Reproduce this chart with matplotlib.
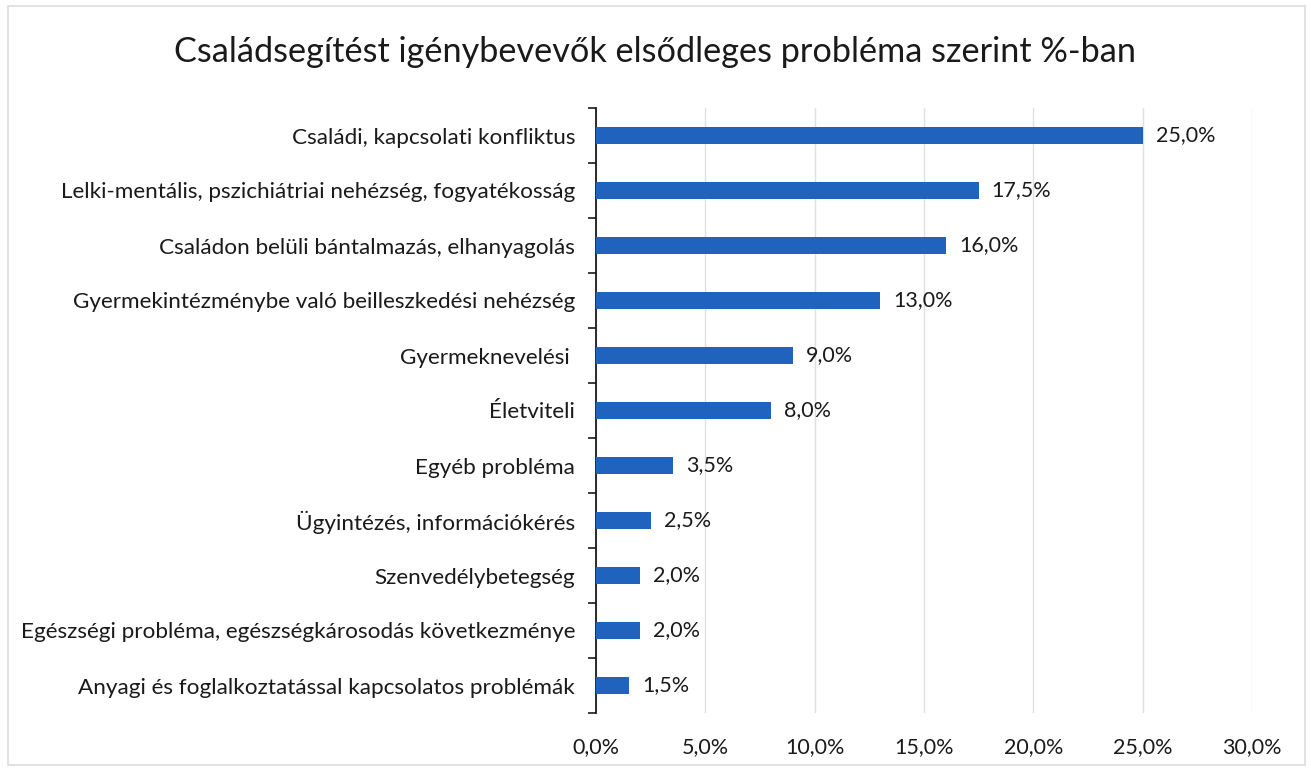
#!/usr/bin/env python3
"""Családsegítést igénybevevők elsődleges probléma szerint (horizontal bars)."""
import matplotlib
matplotlib.use("Agg")
import matplotlib.pyplot as plt
import numpy as np
from matplotlib.ticker import FuncFormatter, FixedLocator

TITLE = "Családsegítést igénybevevők elsődleges probléma szerint %-ban"

CATEGORIES = [
    "Családi, kapcsolati konfliktus",
    "Lelki-mentális, pszichiátriai nehézség, fogyatékosság",
    "Családon belüli bántalmazás, elhanyagolás",
    "Gyermekintézménybe való beilleszkedési nehézség",
    "Gyermeknevelési ",
    "Életviteli",
    "Egyéb probléma",
    "Ügyintézés, információkérés",
    "Szenvedélybetegség",
    "Egészségi probléma, egészségkárosodás következménye",
    "Anyagi és foglalkoztatással kapcsolatos problémák",
]
VALUES = [25.0, 17.5, 16.0, 13.0, 9.0, 8.0, 3.5, 2.5, 2.0, 2.0, 1.5]
XTICKS = [0, 5, 10, 15, 20, 25, 30]

BAR = "#1F63BF"
INK = "#1A1A1A"
GRID = "#E0E0E0"


def pct(v):
    return f"{v:.1f}%".replace(".", ",")


def main():
    plt.rcParams["font.family"] = ["Lato", "DejaVu Sans"]
    fig = plt.figure(figsize=(13.11, 7.69), dpi=100)
    fig.patch.set_facecolor("white")
    ax = fig.add_axes([596 / 1311, 1 - 713 / 769, (1252 - 596) / 1311, (713 - 108) / 769])

    y = np.arange(len(CATEGORIES))
    ax.barh(y, VALUES, height=0.31, color=BAR, zorder=3)
    for yi, v in zip(y, VALUES):
        ax.text(v + 0.6, yi, pct(v), va="center", ha="left",
                fontsize=15.5, color=INK)

    ax.set_ylim(len(CATEGORIES) - 0.5, -0.5)
    ax.set_xlim(0, 30)
    ax.set_xticks(XTICKS)
    ax.xaxis.set_major_formatter(FuncFormatter(lambda v, _: pct(v)))
    ax.tick_params(axis="x", length=0, pad=17, labelsize=15.5, colors=INK)
    ax.grid(axis="x", color=GRID, lw=1.0, zorder=0)

    ax.set_yticks(y)
    ax.set_yticklabels(CATEGORIES, fontsize=16.2, color=INK)
    ax.tick_params(axis="y", which="major", length=0, pad=15)
    ax.yaxis.set_minor_locator(FixedLocator(np.arange(len(CATEGORIES) + 1) - 0.5))
    ax.tick_params(axis="y", which="minor", length=6, width=1.2, color=INK)

    for s in ("top", "right", "bottom"):
        ax.spines[s].set_visible(False)
    ax.spines["left"].set_color(INK)
    ax.spines["left"].set_linewidth(1.3)

    fig.text(0.5, 1 - 52 / 769, TITLE, ha="center", va="center",
             fontsize=24.7, color=INK)

    border = plt.Rectangle((8 / 1311, 4 / 769), 1 - 14 / 1311, 1 - 10 / 769,
                           transform=fig.transFigure, fill=False,
                           edgecolor="#DCDCDC", lw=1.2)
    fig.patches.append(border)

    fig.savefig("out.png", dpi=100)


if __name__ == "__main__":
    main()
